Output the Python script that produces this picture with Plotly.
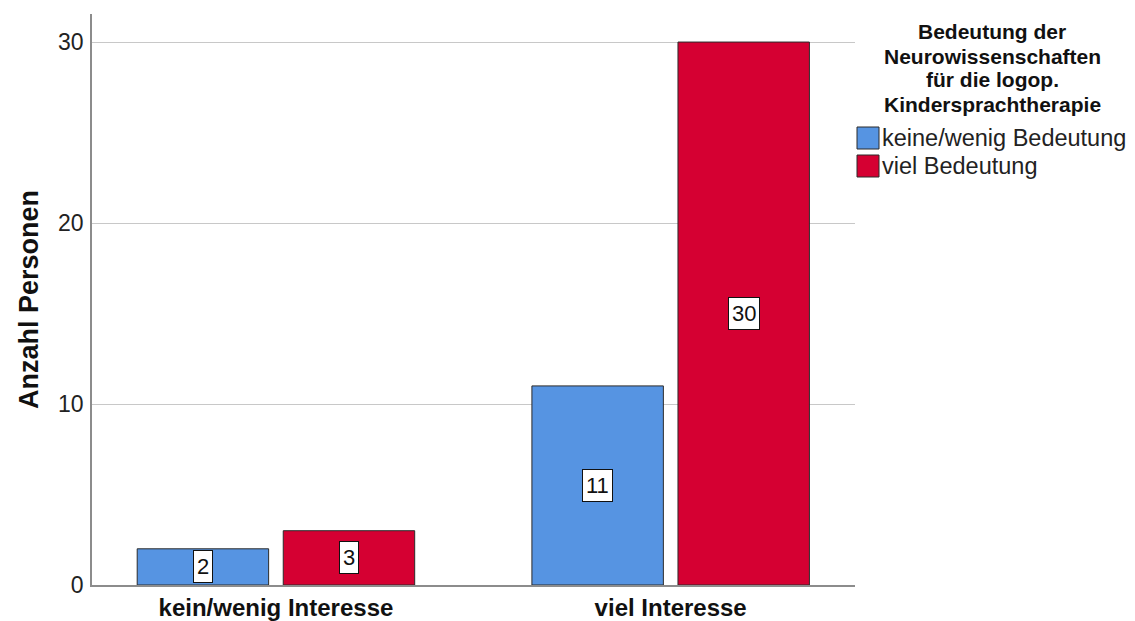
import plotly.graph_objects as go

categories = ["kein/wenig Interesse", "viel Interesse"]
series_names = ["keine/wenig Bedeutung", "viel Bedeutung"]
values_keine = [2, 11]
values_viel = [3, 30]
colors = ["#5694E2", "#D50032"]
y_ticks = [0, 10, 20, 30]
legend_title_lines = ["Bedeutung der", "Neurowissenschaften", "für die logop.", "Kindersprachtherapie"]

FONT = "Liberation Sans, Arial, sans-serif"
x_pos = list(range(len(categories)))

fig = go.Figure()
for name, vals, col in zip(series_names, [values_keine, values_viel], colors):
    fig.add_trace(go.Bar(
        x=x_pos, y=vals, name=name,
        marker=dict(color=col, line=dict(color="#2b2b2b", width=1)),
        hoverinfo="y+name", showlegend=False,
    ))

# value labels in white boxes, centred in each bar
bargap, groupgap = 0.26, 0.1
slot = (1 - bargap) / 2
offsets = [-slot / 2, slot / 2]
for off, vals in zip(offsets, [values_keine, values_viel]):
    for xi, v in zip(x_pos, vals):
        fig.add_annotation(
            x=xi + off, y=v / 2, text=str(v), showarrow=False,
            font=dict(family=FONT, size=22, color="#111"),
            bgcolor="white", bordercolor="#111", borderwidth=1, borderpad=3,
        )

# legend title (one annotation per line for tight line spacing)
plot_w = 1135 - 92 - 280
plot_h = 621 - 14 - 36
def px_x(p):
    return (p - 92) / plot_w
def px_y(p):
    return (621 - 36 - p) / plot_h

title_centers = [32, 56, 80, 104]
for line, yc in zip(legend_title_lines, title_centers):
    fig.add_annotation(
        xref="paper", yref="paper", x=px_x(992), y=px_y(yc),
        xanchor="center", yanchor="middle", showarrow=False,
        text="<b>" + line + "</b>",
        font=dict(family=FONT, size=21, color="#111"),
    )

# legend items (swatch + label)
item_centers = [138, 166]
for name, col, yc in zip(series_names, colors, item_centers):
    fig.add_shape(
        type="rect", xref="paper", yref="paper",
        x0=px_x(857), x1=px_x(879), y0=px_y(yc + 11), y1=px_y(yc - 11),
        fillcolor=col, line=dict(color="#2b2b2b", width=1),
    )
    fig.add_annotation(
        xref="paper", yref="paper", x=px_x(880), y=px_y(yc),
        xanchor="left", yanchor="middle", showarrow=False,
        text=name, font=dict(family=FONT, size=23.5, color="#222"),
    )

fig.update_layout(
    width=1135, height=621,
    margin=dict(l=92, r=280, t=14, b=36, autoexpand=False),
    paper_bgcolor="white", plot_bgcolor="white",
    barmode="group", bargap=bargap, bargroupgap=groupgap,
    font=dict(family=FONT, color="#222"),
    showlegend=False,
    xaxis=dict(
        range=[-0.466, 1.467], automargin=False,
        tickvals=x_pos, ticktext=["<b>" + c + "</b>" for c in categories],
        tickfont=dict(family=FONT, size=24, color="#111"),
        showline=True, linecolor="#8c8c8c", linewidth=1.5,
        showgrid=False, zeroline=False, ticks="", ticklabelstandoff=0,
    ),
    yaxis=dict(
        range=[0, 31.55], tickvals=y_ticks, automargin=False,
        tickfont=dict(family=FONT, size=23, color="#222"),
        showline=True, linecolor="#8c8c8c", linewidth=1.5,
        showgrid=True, gridcolor="#c8c8c8", gridwidth=1,
        zeroline=False, ticks="", ticklabelstandoff=2,
        title=dict(text="<b>Anzahl Personen</b>", font=dict(family=FONT, size=27, color="#111"), standoff=12),
    ),
)

fig.write_html("out.html")
